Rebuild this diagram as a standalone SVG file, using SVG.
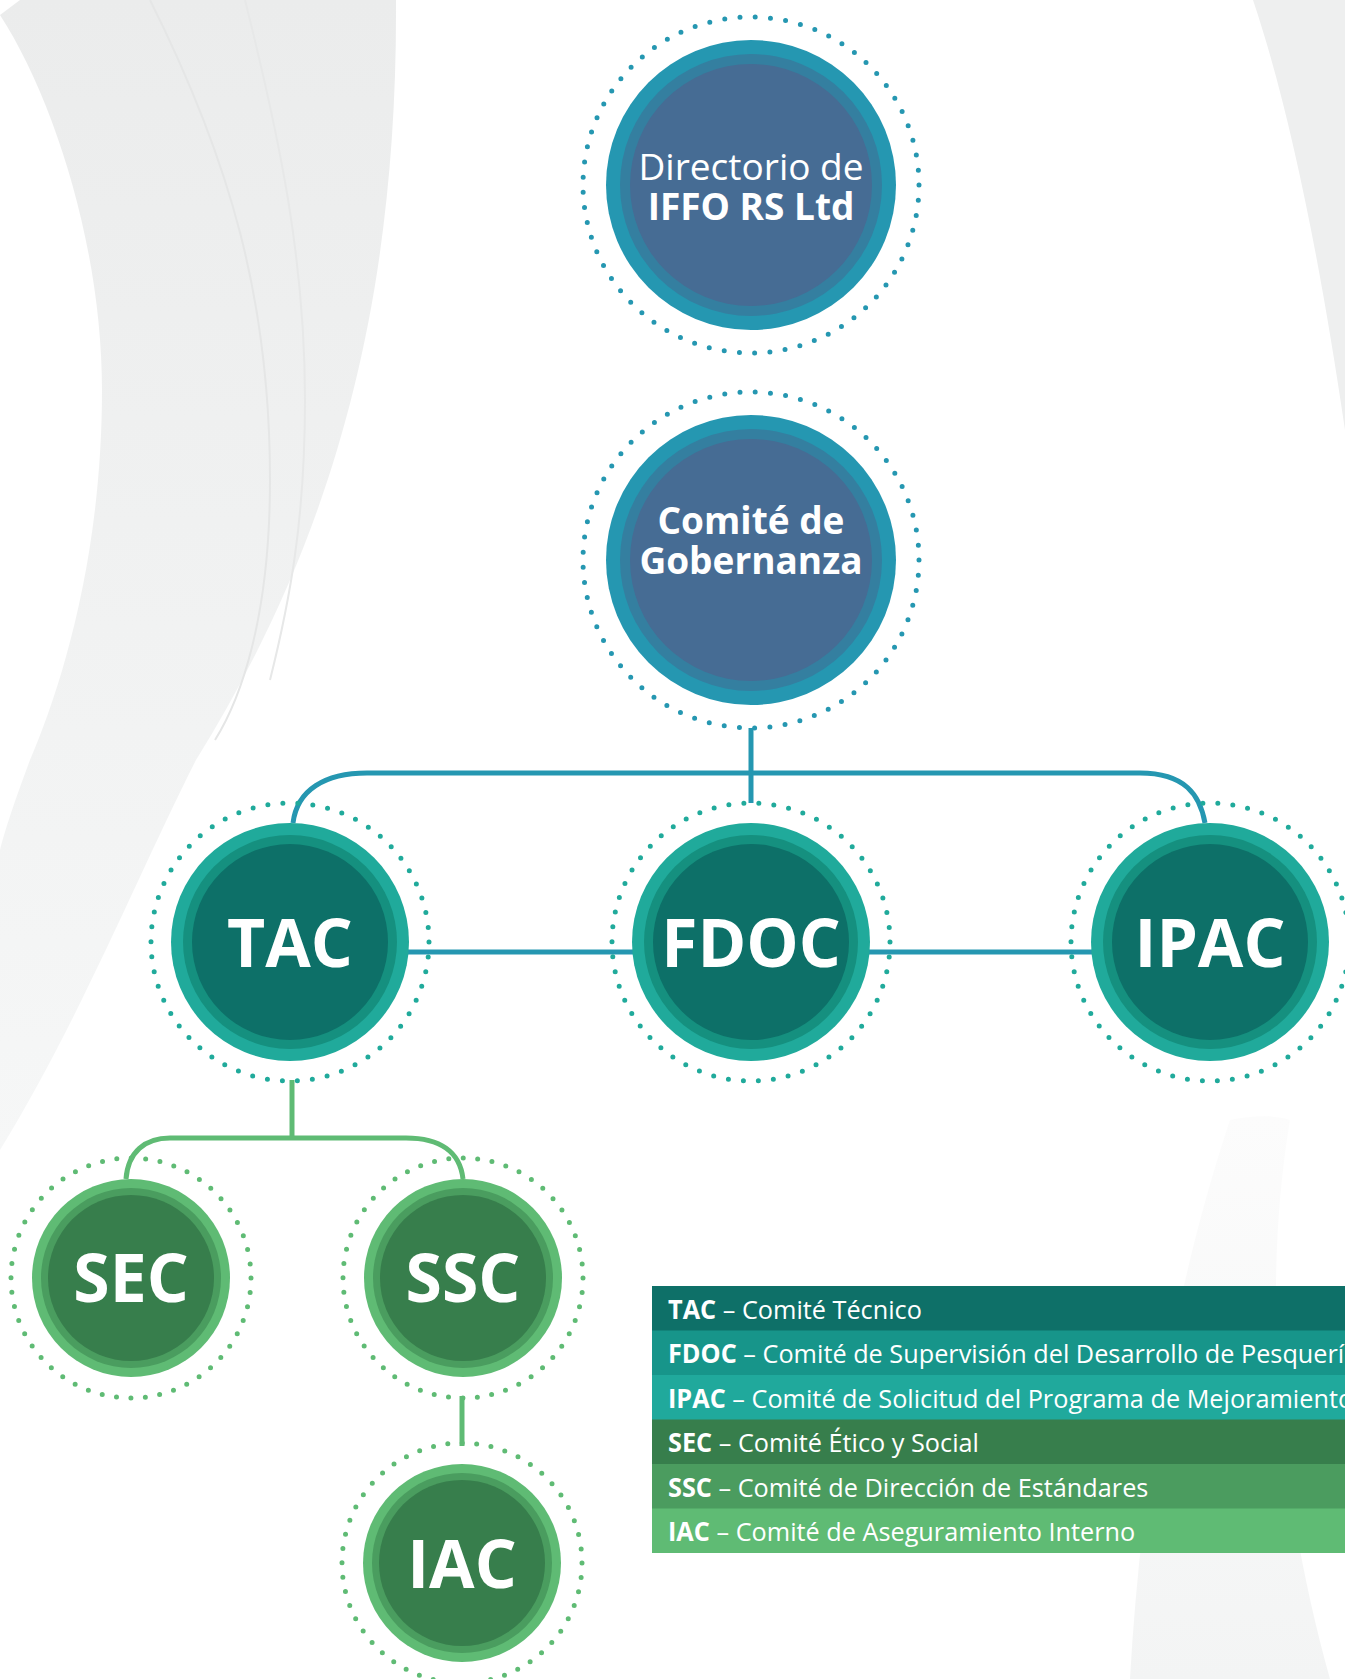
<svg xmlns="http://www.w3.org/2000/svg" width="1345" height="1679" viewBox="0 0 1345 1679">
<defs>
<style>
.dotB{fill:none;stroke:#2597b1;stroke-width:5;stroke-linecap:round}
.dotT{fill:none;stroke:#20aa9b;stroke-width:5;stroke-linecap:round}
.dotG{fill:none;stroke:#5fbb74;stroke-width:5;stroke-linecap:round}
.b1{fill:#2597b1}.b2{fill:#347fa0}.b3{fill:#466c94}
.t1{fill:#20aa9b}.t2{fill:#15907f}.t3{fill:#0d7068}
.g1{fill:#5fbb74}.g2{fill:#4a9d5f}.g3{fill:#377e4c}
.lb{fill:#ffffff;font-family:'Open Sans','Noto Sans',sans-serif;font-size:37px;text-anchor:middle}
.code{fill:#ffffff;font-family:'Open Sans','Noto Sans',sans-serif;font-size:66px;font-weight:700;text-anchor:middle}
.cb{fill:none;stroke:#2597b1;stroke-width:5}
.cg{fill:none;stroke:#5fbb74;stroke-width:5}
.leg{fill:#ffffff;font-family:'Open Sans','Noto Sans',sans-serif;font-size:26px}
</style>
<linearGradient id="bgL" x1="0" y1="0" x2="0" y2="1">
<stop offset="0" stop-color="#ebecec"/>
<stop offset="1" stop-color="#f6f7f7"/>
</linearGradient>
<linearGradient id="bgR" x1="0" y1="0" x2="0" y2="1">
<stop offset="0" stop-color="#fcfcfc"/>
<stop offset="1" stop-color="#f3f4f4"/>
</linearGradient>
</defs>
<rect width="1345" height="1679" fill="#ffffff"/>
<g id="background">
<path d="M0,15 C55,100 102,250 102,390 C102,560 60,690 30,760 C15,800 5,830 0,850 L0,1150 C80,1020 140,870 196,760 C320,560 398,330 396,0 L20,0 Z" fill="url(#bgL)"/>
<path d="M150,0 C230,160 270,300 270,480 C270,620 240,700 215,740" fill="none" stroke="#e5e6e6" stroke-width="2"/>
<path d="M245,0 C280,140 305,260 305,400 C305,520 290,600 270,680" fill="none" stroke="#e7e8e8" stroke-width="2"/>
<path d="M1253,0 L1345,0 L1345,430 C1320,260 1290,110 1253,0 Z" fill="#eeefef"/>
<path d="M1130,1679 C1140,1500 1170,1300 1230,1120 C1255,1115 1275,1115 1290,1120 C1260,1300 1280,1500 1330,1679 Z" fill="url(#bgR)"/>
</g>
<g id="connectors">
<path class="cb" d="M751,728 V803"/>
<path class="cb" d="M293,823 C297,790 325,773 367,773 H1140 C1185,773 1200,795 1205,823"/>
<path class="cb" d="M290,952 H1210"/>
<path class="cg" d="M292,1080 V1138"/>
<path class="cg" d="M126,1179 C128,1152 145,1138 170,1138 H406 C440,1138 460,1152 463,1179"/>
<path class="cg" d="M462,1396 V1446"/>
</g>
<g id="node-directorio">
<circle class="dotB" cx="751" cy="185" r="168" stroke-dasharray="0 15.3"/>
<circle class="b1" cx="751" cy="185" r="145"/>
<circle class="b2" cx="751" cy="185" r="131"/>
<circle class="b3" cx="751" cy="185" r="121"/>
<text class="lb" x="751" y="180">Directorio de</text>
<text class="lb" x="751" y="220" font-weight="700">IFFO RS Ltd</text>
</g>
<g id="node-gobernanza">
<circle class="dotB" cx="751" cy="560" r="168" stroke-dasharray="0 15.3"/>
<circle class="b1" cx="751" cy="560" r="145"/>
<circle class="b2" cx="751" cy="560" r="131"/>
<circle class="b3" cx="751" cy="560" r="121"/>
<text class="lb" x="751" y="534" font-weight="700">Comité de</text>
<text class="lb" x="751" y="574" font-weight="700">Gobernanza</text>
</g>
<g id="node-tac">
<circle class="dotT" cx="290" cy="942" r="139" stroke-dasharray="0 15.06"/>
<circle class="t1" cx="290" cy="942" r="119"/>
<circle class="t2" cx="290" cy="942" r="107"/>
<circle class="t3" cx="290" cy="942" r="98"/>
<text class="code" x="290" y="967">TAC</text>
</g>
<g id="node-fdoc">
<circle class="dotT" cx="751" cy="942" r="139" stroke-dasharray="0 15.06"/>
<circle class="t1" cx="751" cy="942" r="119"/>
<circle class="t2" cx="751" cy="942" r="107"/>
<circle class="t3" cx="751" cy="942" r="98"/>
<text class="code" x="751" y="967">FDOC</text>
</g>
<g id="node-ipac">
<circle class="dotT" cx="1210" cy="942" r="139" stroke-dasharray="0 15.06"/>
<circle class="t1" cx="1210" cy="942" r="119"/>
<circle class="t2" cx="1210" cy="942" r="107"/>
<circle class="t3" cx="1210" cy="942" r="98"/>
<text class="code" x="1210" y="967">IPAC</text>
</g>
<g id="node-sec">
<circle class="dotG" cx="131" cy="1278" r="120" stroke-dasharray="0 14.5"/>
<circle class="g1" cx="131" cy="1278" r="99"/>
<circle class="g2" cx="131" cy="1278" r="90"/>
<circle class="g3" cx="131" cy="1278" r="83"/>
<text class="code" x="131" y="1302">SEC</text>
</g>
<g id="node-ssc">
<circle class="dotG" cx="463" cy="1278" r="120" stroke-dasharray="0 14.5"/>
<circle class="g1" cx="463" cy="1278" r="99"/>
<circle class="g2" cx="463" cy="1278" r="90"/>
<circle class="g3" cx="463" cy="1278" r="83"/>
<text class="code" x="463" y="1302">SSC</text>
</g>
<g id="node-iac">
<circle class="dotG" cx="462" cy="1563" r="120" stroke-dasharray="0 14.5"/>
<circle class="g1" cx="462" cy="1563" r="99"/>
<circle class="g2" cx="462" cy="1563" r="90"/>
<circle class="g3" cx="462" cy="1563" r="83"/>
<text class="code" x="462" y="1588">IAC</text>
</g>
<g id="legend">
<rect x="652" y="1286" width="693" height="45" fill="#0e7068"/>
<rect x="652" y="1330.5" width="693" height="45" fill="#17958a"/>
<rect x="652" y="1375" width="693" height="45" fill="#20a99c"/>
<rect x="652" y="1419.5" width="693" height="45" fill="#377e4c"/>
<rect x="652" y="1464" width="693" height="45" fill="#4b9c5f"/>
<rect x="652" y="1508.5" width="693" height="44.5" fill="#5fbb74"/>
<g transform="translate(668,0) scale(0.972,1)">
<text class="leg" x="0" y="1319"><tspan font-weight="700">TAC</tspan> – Comité Técnico</text>
<text class="leg" x="0" y="1363.5"><tspan font-weight="700">FDOC</tspan> – Comité de Supervisión del Desarrollo de Pesquerí</text>
<text class="leg" x="0" y="1408"><tspan font-weight="700">IPAC</tspan> – Comité de Solicitud del Programa de Mejoramiento</text>
<text class="leg" x="0" y="1452.5"><tspan font-weight="700">SEC</tspan> – Comité Ético y Social</text>
<text class="leg" x="0" y="1497"><tspan font-weight="700">SSC</tspan> – Comité de Dirección de Estándares</text>
<text class="leg" x="0" y="1541.5"><tspan font-weight="700">IAC</tspan> – Comité de Aseguramiento Interno</text>
</g>
</g>
</svg>
